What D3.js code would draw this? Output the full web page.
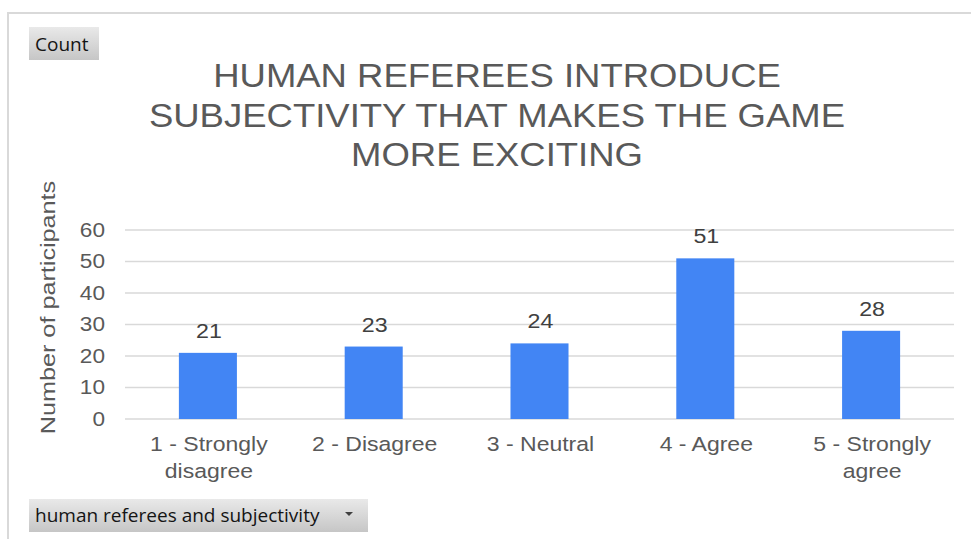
<!DOCTYPE html>
<html>
<head>
<meta charset="utf-8">
<script src="https://cdn.jsdelivr.net/npm/d3@7"></script>
<style>
  html, body { margin: 0; padding: 0; background: #fff; }
  svg { display: block; }
</style>
</head>
<body>
<svg id="chart" width="971" height="539"></svg>
<script>
// Survey responses: "Human referees introduce subjectivity that makes the game more exciting"
const categories = ["1 - Strongly disagree", "2 - Disagree", "3 - Neutral", "4 - Agree", "5 - Strongly agree"];
const categoryLines = [["1 - Strongly", "disagree"], ["2 - Disagree"], ["3 - Neutral"], ["4 - Agree"], ["5 - Strongly", "agree"]];
const counts = [21, 23, 24, 51, 28];
const yTicks = [0, 10, 20, 30, 40, 50, 60];
const titleLines = ["HUMAN REFEREES INTRODUCE", "SUBJECTIVITY THAT MAKES THE GAME", "MORE EXCITING"];
const yAxisTitle = "Number of participants";
const fieldButton = "Count";
const filterButton = "human referees and subjectivity";

const svg = d3.select("#chart");
const W = 971, H = 539;
const sans = "'Liberation Sans', Arial, sans-serif";
const uiFont = "'Open Sans', 'Noto Sans', sans-serif";
// chart text is set in a slightly wide face: stretch glyphs horizontally
const wide = 1.16;

// gradient for pivot-chart field buttons
const defs = svg.append("defs");
const grad = defs.append("linearGradient").attr("id", "btnGrad")
  .attr("x1", 0).attr("y1", 0).attr("x2", 0).attr("y2", 1);
grad.append("stop").attr("offset", "0%").attr("stop-color", "#e9e9e9");
grad.append("stop").attr("offset", "100%").attr("stop-color", "#c6c6c6");

// chart area frame
svg.append("rect")
  .attr("x", 8).attr("y", 13).attr("width", W + 10).attr("height", H + 10)
  .attr("fill", "#fff").attr("stroke", "#d9d9d9").attr("stroke-width", 2);

// plot geometry
const plot = { left: 125, right: 954, top: 230, bottom: 419 };

const x = d3.scaleBand().domain(categories).range([plot.left, plot.right]).paddingInner(0.65).paddingOuter(0.325);
const y = d3.scaleLinear().domain([0, 60]).range([plot.bottom, plot.top]);

// gridlines
svg.append("g")
  .selectAll("line").data(yTicks).join("line")
  .attr("x1", plot.left).attr("x2", plot.right)
  .attr("y1", d => y(d)).attr("y2", d => y(d))
  .attr("stroke", "#d9d9d9").attr("stroke-width", 1.5);

// y axis tick labels
const yAxis = d3.axisLeft(y).tickValues(yTicks).tickSize(0).tickPadding(0);
const yg = svg.append("g").attr("transform", `translate(${plot.left - 20},0)`).call(yAxis);
yg.select(".domain").remove();
yg.selectAll("text")
  .attr("font-family", sans)
  .attr("font-size", 19.5).attr("fill", "#595959")
  .attr("transform", `scale(${wide},1)`);

// bars
svg.append("g").selectAll("rect").data(counts).join("rect")
  .attr("x", (d, i) => x(categories[i]))
  .attr("y", d => y(d))
  .attr("width", x.bandwidth())
  .attr("height", d => y(0) - y(d))
  .attr("fill", "#4285f4");

// value labels
svg.append("g").selectAll("text").data(counts).join("text")
  .attr("transform", (d, i) => `translate(${x(categories[i]) + x.bandwidth() / 2 + 1},${y(d) - 15}) scale(${wide},1)`)
  .attr("text-anchor", "middle")
  .attr("font-family", sans)
  .attr("font-size", 20).attr("fill", "#404040")
  .text(d => d);

// category labels
const xl = svg.append("g").selectAll("text").data(categoryLines).join("text")
  .attr("text-anchor", "middle")
  .attr("font-family", sans)
  .attr("font-size", 19.5).attr("fill", "#595959")
  .attr("transform", (d, i) => `translate(${x(categories[i]) + x.bandwidth() / 2 + 1},451) scale(${wide + 0.02},1)`);
xl.selectAll("tspan").data(d => d).join("tspan")
  .attr("x", 0).attr("dy", (d, i) => i === 0 ? 0 : 27)
  .text(d => d);

// y axis title
svg.append("text")
  .attr("transform", "translate(55,307.5) rotate(-90) scale(1.2,1)")
  .attr("text-anchor", "middle")
  .attr("font-family", sans)
  .attr("font-size", 21).attr("fill", "#595959")
  .text(yAxisTitle);

// chart title
svg.append("g").selectAll("text").data(titleLines).join("text")
  .attr("transform", (d, i) => `translate(497,${87 + i * 39.5}) scale(1.09,1)`)
  .attr("text-anchor", "middle")
  .attr("font-family", sans)
  .attr("font-size", 33.5).attr("fill", "#595959")
  .text(d => d);

// field buttons
const b1 = svg.append("g").attr("transform", "translate(29,27)");
b1.append("rect").attr("width", 70).attr("height", 33).attr("fill", "url(#btnGrad)");
b1.append("text").attr("x", 6).attr("y", 24)
  .attr("font-family", uiFont)
  .attr("font-size", 19).attr("fill", "#141414").text(fieldButton);

const b2 = svg.append("g").attr("transform", "translate(29,499)");
b2.append("rect").attr("width", 339).attr("height", 33).attr("fill", "url(#btnGrad)");
b2.append("text").attr("x", 6).attr("y", 23)
  .attr("font-family", uiFont)
  .attr("font-size", 19).attr("fill", "#141414").text(filterButton);
b2.append("path").attr("d", "M316,13 L324,13 L320,17 Z").attr("fill", "#404040");
</script>
</body>
</html>
